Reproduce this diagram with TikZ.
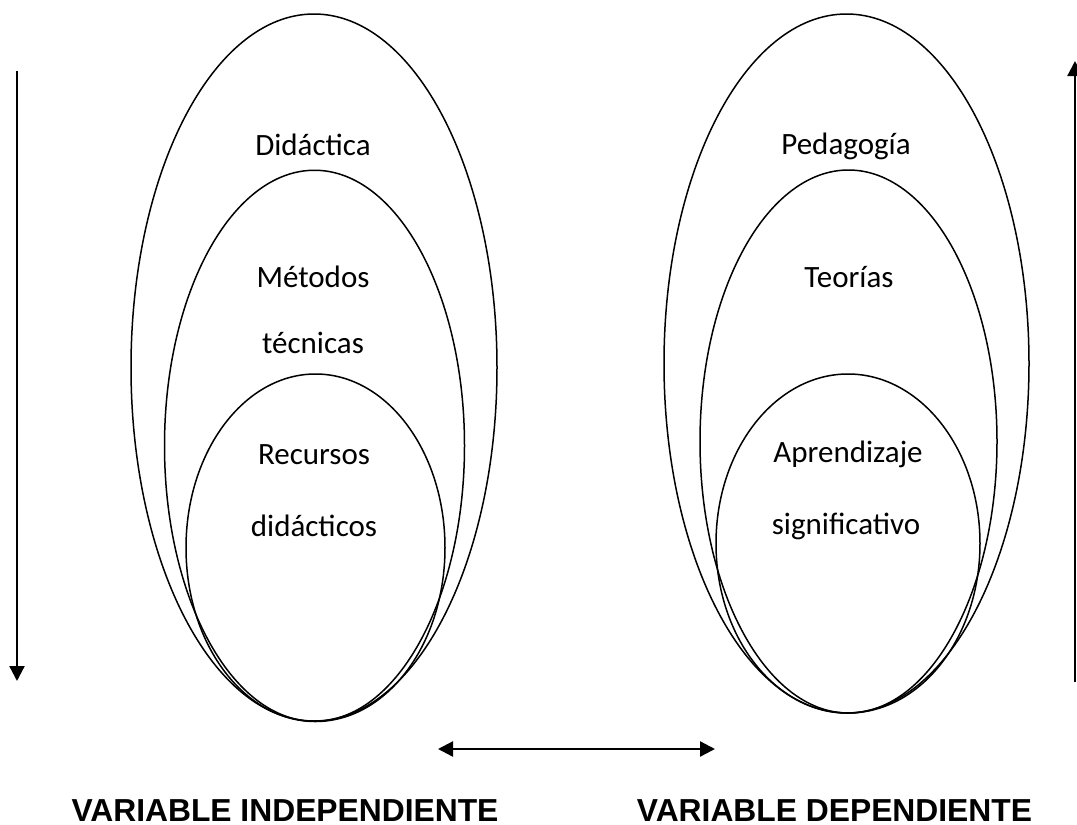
\documentclass[tikz,border=0pt]{standalone}
\usepackage{fontspec}
\setmainfont{Carlito}
\newfontfamily\headfont{Liberation Sans}
\usetikzlibrary{shapes.geometric,arrows.meta}
\begin{document}
\begin{tikzpicture}[x=1pt,y=-1pt,
  ell/.style={draw,ellipse,inner sep=0pt,line width=1.5pt},
  lbl/.style={anchor=base,inner sep=0pt,font=\fontsize{31}{37}\selectfont},
  head/.style={anchor=base,inner sep=0pt,font=\headfont\bfseries\fontsize{31.8}{38}\selectfont},
  arr/.style={line width=2.3pt,-{Triangle[length=15pt,width=15pt]}},
  darr/.style={line width=2.3pt,{Triangle[length=15pt,width=15pt]}-{Triangle[length=15pt,width=15pt]}}]
\clip (0,0) rectangle (1077,825);
% left group
\node[ell,minimum width=366pt,minimum height=707pt] (oL) at (314,367.5) {};
\node[ell,minimum width=300pt,minimum height=551pt] (mL) at (314.5,445.75) {};
\node[ell,minimum width=259pt,minimum height=347.5pt] (iL) at (315.5,547.75) {};
% right group
\node[ell,minimum width=365pt,minimum height=699pt] (oR) at (846.5,363.5) {};
\node[ell,minimum width=297pt,minimum height=543pt] (mR) at (848.5,441.5) {};
\node[ell,minimum width=264pt,minimum height=339pt] (iR) at (848,543.5) {};
% labels
\node[lbl] (t1) at (313,155) {Didáctica};
\node[lbl] (t2) at (313,287) {Métodos};
\node[lbl] (t3) at (313,353) {técnicas};
\node[lbl] (t4) at (314,464) {Recursos};
\node[lbl] (t5) at (314,536) {didácticos};
\node[lbl] (u1) at (846,154) {Pedagogía};
\node[lbl] (u2) at (849,287) {Teorías};
\node[lbl] (u3) at (848,462) {Aprendizaje};
\node[lbl] (u4) at (846,534) {significativo};
\node[head] (h1) at (285,821) {VARIABLE INDEPENDIENTE};
\node[head] (h2) at (834.5,821) {VARIABLE DEPENDIENTE};
% arrows
\coordinate (a1) at (17,71);
\coordinate (a2) at (17,681);
\coordinate (b1) at (1075,682);
\coordinate (b2) at (1075,61);
\coordinate (c1) at (438,749);
\coordinate (c2) at (715,749);
\draw[arr] (a1) -- (a2);
\draw[arr] (b1) -- (b2);
\draw[darr] (c1) -- (c2);
\end{tikzpicture}
\end{document}
